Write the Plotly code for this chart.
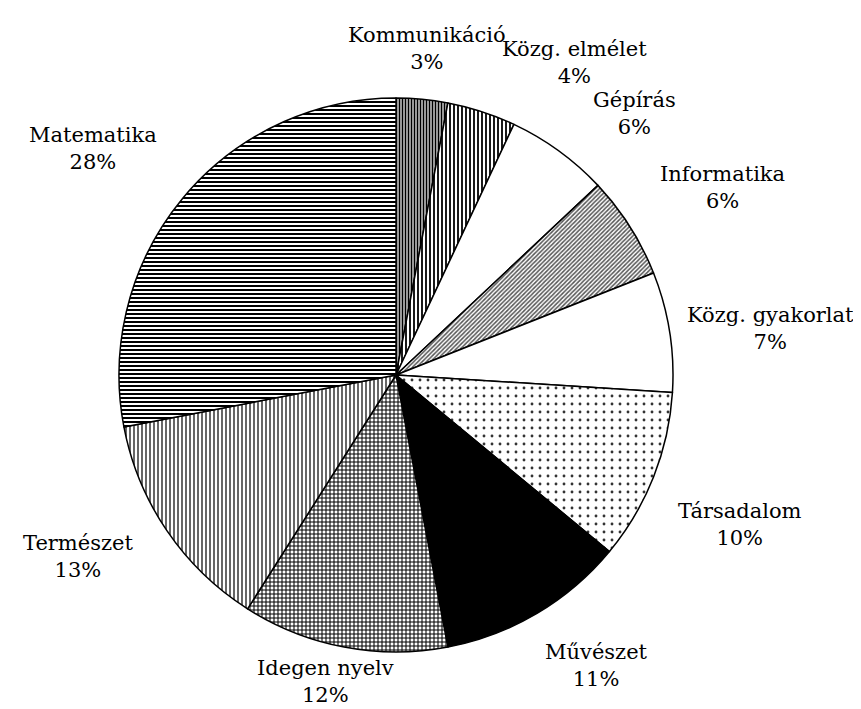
import plotly.graph_objects as go

# Data
subjects = ["Kommunikáció", "Közg. elmélet", "Gépírás", "Informatika", "Közg. gyakorlat",
            "Társadalom", "Művészet", "Idegen nyelv", "Természet", "Matematika"]
shares = [3, 4, 6, 6, 7, 10, 11, 12, 13, 28]

# Styles
pattern_shapes = ["|", "|", "", "/", "", ".", "", "+", "|", "-"]
pattern_fg = ["black", "black", "black", "#555", "black", "#333", "black", "black", "black", "black"]
pattern_bg = ["white", "white", "white", "white", "white", "white", "black", "white", "white", "white"]
pattern_size = [3, 4, 6, 3, 6, 8, 6, 4, 4, 4]
pattern_solidity = [0.6, 0.45, 0.3, 0.5, 0.3, 0.1, 0.3, 0.45, 0.3, 0.5]

# Label anchor positions (pixels in the 861x709 canvas), centre of the two-line label
label_px = [(419, 40), (566, 55), (626, 105), (714, 179), (762, 320),
            (732, 516), (588, 657), (317, 673), (70, 548), (85, 140)]

W, H = 861, 709
cx, cy, r = 388, 367, 277
fig = go.Figure(go.Pie(
    labels=subjects,
    values=shares,
    sort=False,
    direction="clockwise",
    rotation=0,
    textinfo="none",
    hoverinfo="label+percent",
    marker=dict(
        colors=pattern_bg,
        line=dict(color="black", width=1.5),
        pattern=dict(shape=pattern_shapes, fgcolor=pattern_fg, bgcolor=pattern_bg,
                     size=pattern_size, solidity=pattern_solidity, fillmode="replace"),
    ),
    domain=dict(x=[(cx - r) / W, (cx + r) / W], y=[1 - (cy + r) / H, 1 - (cy - r) / H]),
    showlegend=False,
))

for name, val, (px, py) in zip(subjects, shares, label_px):
    fig.add_annotation(
        x=px / W, y=1 - py / H, xref="paper", yref="paper",
        text=f"{name}<br>{val}%", showarrow=False,
        font=dict(family="DejaVu Serif, Liberation Serif, serif", size=21, color="black"),
        align="center", xanchor="center", yanchor="middle",
    )

fig.update_layout(
    width=W, height=H,
    margin=dict(l=0, r=0, t=0, b=0),
    paper_bgcolor="white",
    plot_bgcolor="white",
)

fig.write_html("out.html")
